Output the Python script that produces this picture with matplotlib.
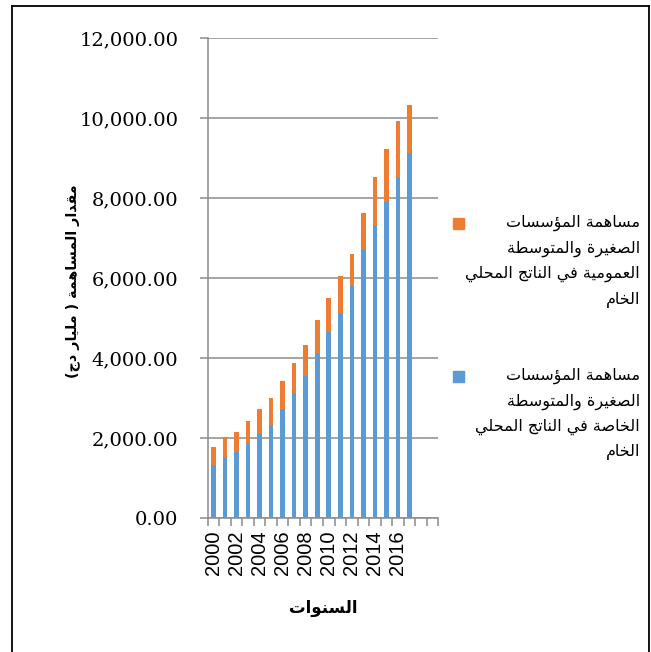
import matplotlib
matplotlib.use("Agg")
import matplotlib.pyplot as plt
from matplotlib.lines import Line2D
from matplotlib.patches import Rectangle
import numpy as np

# data (milliards DA)
years = list(range(2000, 2018))
prive = [1325, 1533, 1658, 1858, 2125, 2333, 2717, 3133, 3558, 4133,
         4658, 5117, 5800, 6717, 7325, 7908, 8517, 9133]
public = [458, 484, 500, 567, 600, 659, 708, 750, 767, 817,
          834, 933, 792, 900, 1192, 1317, 1416, 1192]

lbl_public = ["مساهمة المؤسسات", "الصغيرة والمتوسطة", "العمومية في الناتج المحلي", "الخام"]
lbl_prive = ["مساهمة المؤسسات", "الصغيرة والمتوسطة", "الخاصة في الناتج المحلي", "الخام"]
ylabel = "مقدار المساهمة ( مليار دج)"
xlabel = "السنوات"

# arabic shaping by hand (presentation forms + reversed order)
FORMS = {
    "\u0621": ("\uFE80",),
    "\u0622": ("\uFE81", "\uFE82"), "\u0623": ("\uFE83", "\uFE84"),
    "\u0624": ("\uFE85", "\uFE86"), "\u0625": ("\uFE87", "\uFE88"),
    "\u0626": ("\uFE89", "\uFE8A", "\uFE8B", "\uFE8C"),
    "\u0627": ("\uFE8D", "\uFE8E"),
    "\u0628": ("\uFE8F", "\uFE90", "\uFE91", "\uFE92"),
    "\u0629": ("\uFE93", "\uFE94"),
    "\u062A": ("\uFE95", "\uFE96", "\uFE97", "\uFE98"),
    "\u062B": ("\uFE99", "\uFE9A", "\uFE9B", "\uFE9C"),
    "\u062C": ("\uFE9D", "\uFE9E", "\uFE9F", "\uFEA0"),
    "\u062D": ("\uFEA1", "\uFEA2", "\uFEA3", "\uFEA4"),
    "\u062E": ("\uFEA5", "\uFEA6", "\uFEA7", "\uFEA8"),
    "\u062F": ("\uFEA9", "\uFEAA"), "\u0630": ("\uFEAB", "\uFEAC"),
    "\u0631": ("\uFEAD", "\uFEAE"), "\u0632": ("\uFEAF", "\uFEB0"),
    "\u0633": ("\uFEB1", "\uFEB2", "\uFEB3", "\uFEB4"),
    "\u0634": ("\uFEB5", "\uFEB6", "\uFEB7", "\uFEB8"),
    "\u0635": ("\uFEB9", "\uFEBA", "\uFEBB", "\uFEBC"),
    "\u0636": ("\uFEBD", "\uFEBE", "\uFEBF", "\uFEC0"),
    "\u0637": ("\uFEC1", "\uFEC2", "\uFEC3", "\uFEC4"),
    "\u0638": ("\uFEC5", "\uFEC6", "\uFEC7", "\uFEC8"),
    "\u0639": ("\uFEC9", "\uFECA", "\uFECB", "\uFECC"),
    "\u063A": ("\uFECD", "\uFECE", "\uFECF", "\uFED0"),
    "\u0641": ("\uFED1", "\uFED2", "\uFED3", "\uFED4"),
    "\u0642": ("\uFED5", "\uFED6", "\uFED7", "\uFED8"),
    "\u0643": ("\uFED9", "\uFEDA", "\uFEDB", "\uFEDC"),
    "\u0644": ("\uFEDD", "\uFEDE", "\uFEDF", "\uFEE0"),
    "\u0645": ("\uFEE1", "\uFEE2", "\uFEE3", "\uFEE4"),
    "\u0646": ("\uFEE5", "\uFEE6", "\uFEE7", "\uFEE8"),
    "\u0647": ("\uFEE9", "\uFEEA", "\uFEEB", "\uFEEC"),
    "\u0648": ("\uFEED", "\uFEEE"), "\u0649": ("\uFEEF", "\uFEF0"),
    "\u064A": ("\uFEF1", "\uFEF2", "\uFEF3", "\uFEF4"),
}
LAMALEF = {"\u0622": ("\uFEF5", "\uFEF6"), "\u0623": ("\uFEF7", "\uFEF8"),
           "\u0625": ("\uFEF9", "\uFEFA"), "\u0627": ("\uFEFB", "\uFEFC")}
MIRROR = {"(": ")", ")": "("}


def ar(text):
    ch = list(text)
    out = []
    i = 0
    while i < len(ch):
        c = ch[i]
        if c not in FORMS:
            out.append(MIRROR.get(c, c))
            i += 1
            continue
        prev = ch[i - 1] if i > 0 else None
        jp = prev in FORMS and len(FORMS[prev]) == 4 and i > 0
        nxt = ch[i + 1] if i + 1 < len(ch) else None
        if c == "\u0644" and nxt in LAMALEF:
            out.append(LAMALEF[nxt][1 if jp else 0])
            i += 2
            continue
        f = FORMS[c]
        jn = len(f) == 4 and nxt in FORMS and len(FORMS[nxt]) >= 2
        if jp and jn:
            out.append(f[3])
        elif jp and len(f) > 1:
            out.append(f[1])
        elif jn:
            out.append(f[2])
        else:
            out.append(f[0])
        i += 1
    return "".join(out[::-1])


blue = "#5B9BD5"
orange = "#ED7D31"
grid_c = "#8c8c8c"

fig = plt.figure(figsize=(6.51, 6.52), dpi=100)
W, H = 651, 652
ax = fig.add_axes([207.7 / W, 1 - 518 / H, (438.3 - 207.7) / W, (518 - 38) / H])

x = np.arange(len(years))
ax.bar(x, prive, width=0.4, color=blue, zorder=3)
ax.bar(x, public, width=0.4, bottom=prive, color=orange, zorder=3)

ax.set_xlim(-0.5, 19.5)
ax.set_ylim(0, 12000)
ax.set_yticks(np.arange(0, 12001, 2000))
ax.set_yticklabels(["{:,.2f}".format(v) for v in np.arange(0, 12001, 2000)],
                   family="DejaVu Serif", fontsize=14)
ax.yaxis.grid(True, color=grid_c, linewidth=1.1, zorder=0)
ax.tick_params(axis="y", length=6, width=1.1, color=grid_c, pad=15)

ax.set_xticks(x[::2])
ax.set_xticklabels([str(y) for y in years[::2]], rotation=90,
                   family="Liberation Sans", fontsize=14.5)
ax.set_xticks(np.arange(-0.5, 20, 1), minor=True)
ax.tick_params(axis="x", which="major", length=0, pad=9)
ax.tick_params(axis="x", which="minor", length=6, width=1.1, color=grid_c)

for s in ["top", "right"]:
    ax.spines[s].set_visible(False)
for s in ["left", "bottom"]:
    ax.spines[s].set_color(grid_c)
    ax.spines[s].set_linewidth(1.1)

fig.text(73 / W, 1 - 281 / H, ar(ylabel), rotation=90, ha="center", va="center",
         family="DejaVu Sans", fontweight="bold", fontsize=10.3)
fig.text(323 / W, 1 - 608 / H, ar(xlabel), ha="center", va="center",
         family="DejaVu Sans", fontweight="bold", fontsize=12)

# legend drawn by hand: square + right aligned lines
for lines, col, sq_y, y0 in [(lbl_public, orange, 218, 227), (lbl_prive, blue, 371, 380)]:
    fig.patches.append(Rectangle((453 / W, 1 - (sq_y + 11) / H), 11 / W, 11 / H,
                                 transform=fig.transFigure, color=col))
    for k, t in enumerate(lines):
        fig.text(640 / W, 1 - (y0 + k * 25.5) / H, ar(t), ha="right", va="baseline",
                 family="DejaVu Sans", fontsize=11.5)

# outer frame
for xs, ys in [([12, 12], [6, 652]), ([12, 649], [6, 6]), ([649, 649], [6, 652])]:
    fig.lines.append(Line2D([v / W for v in xs], [1 - v / H for v in ys],
                            transform=fig.transFigure, color="black", linewidth=1.3))

plt.savefig("out.png", dpi=100)
